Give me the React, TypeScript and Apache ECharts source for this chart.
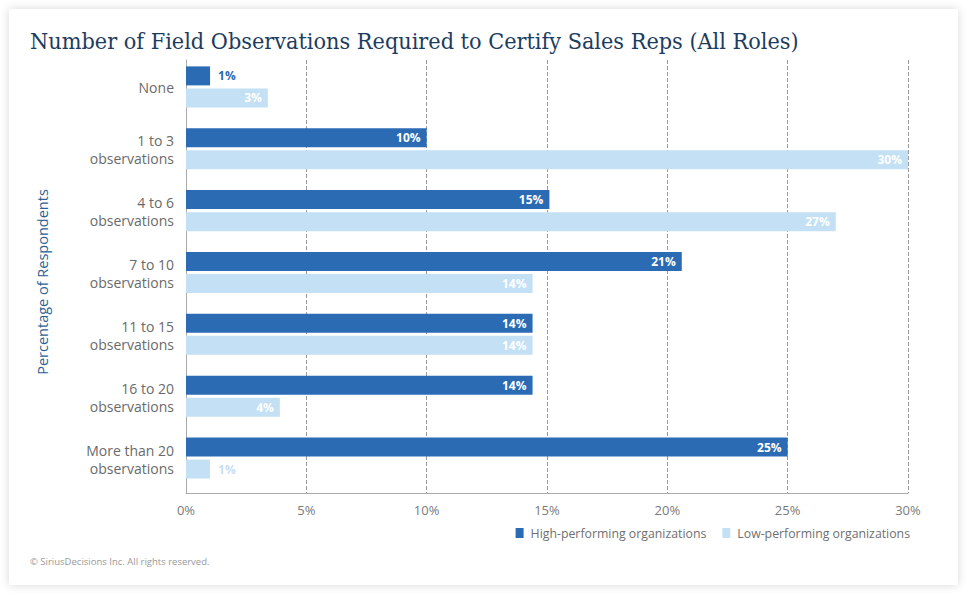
import React, { useEffect, useRef } from "react";
import * as echarts from "echarts";

const categories = [
  "None",
  "1 to 3\nobservations",
  "4 to 6\nobservations",
  "7 to 10\nobservations",
  "11 to 15\nobservations",
  "16 to 20\nobservations",
  "More than 20\nobservations",
];
const highPerforming = [1, 10, 15.1, 20.6, 14.4, 14.4, 25];
const lowPerforming = [3.4, 30, 27, 14.4, 14.4, 3.9, 1];
const xTicks = [0, 5, 10, 15, 20, 25, 30];
const seriesNames = ["High-performing organizations", "Low-performing organizations"];
const titleText = "Number of Field Observations Required to Certify Sales Reps (All Roles)";
const yAxisName = "Percentage of Respondents";
const footerText = "© SiriusDecisions Inc. All rights reserved.";

const DARK = "#2b6bb4";
const LIGHT = "#c4e0f5";
const FONT = "'Open Sans', 'Noto Sans', sans-serif";

function buildData(values: number[], outsideColor: string) {
  return values.map((v) =>
    v < 3
      ? { value: v, label: { position: "right", color: outsideColor, distance: 8 } }
      : { value: v }
  );
}

export default function App() {
  const ref = useRef<HTMLDivElement>(null);
  useEffect(() => {
    document.body.style.margin = "0";
    const chart = echarts.init(ref.current!, null, { renderer: "svg" });
    const labelBase = {
      show: true,
      position: "insideRight",
      distance: 6,
      color: "#ffffff",
      fontWeight: "bold",
      fontSize: 12,
      fontFamily: FONT,
      formatter: (p: any) => Math.round(p.value) + "%",
    };
    chart.setOption({
      animation: false,
      backgroundColor: "transparent",
      title: {
        text: titleText,
        left: 25,
        top: 24,
        textStyle: {
          fontFamily: "'DejaVu Serif Condensed', 'DejaVu Serif', serif",
          fontSize: 23.2,
          fontWeight: "normal",
          color: "#1d3c5e",
        },
      },
      legend: {
        right: 60,
        top: 522,
        icon: "rect",
        itemWidth: 8,
        itemHeight: 10,
        itemGap: 16,
        data: seriesNames,
        textStyle: { color: "#6f6f6f", fontSize: 12.3, fontFamily: FONT, padding: [0, 0, 0, 2] },
      },
      grid: { left: 186, right: 67, top: 60, bottom: 108 },
      xAxis: {
        type: "value",
        min: xTicks[0],
        max: xTicks[xTicks.length - 1],
        interval: 5,
        axisLine: { show: true, lineStyle: { color: "#aaaaaa" } },
        axisTick: { show: false },
        axisLabel: {
          formatter: "{value}%",
          color: "#7a7a7a",
          fontSize: 13,
          fontFamily: FONT,
          margin: 10,
        },
        splitLine: { show: true, lineStyle: { type: "dashed", color: "#9a9a9a" } },
      },
      yAxis: {
        type: "category",
        inverse: true,
        data: categories,
        axisLine: { show: true, lineStyle: { color: "#aaaaaa" } },
        axisTick: { show: false },
        axisLabel: {
          color: "#6a6a6a",
          fontSize: 14,
          lineHeight: 18,
          fontFamily: FONT,
          margin: 12,
          formatter: (v: string) => v + "\n{s| }",
          rich: { s: { height: 6, lineHeight: 6, fontSize: 1 } },
        },
      },
      series: [
        {
          name: seriesNames[0],
          type: "bar",
          barWidth: 19,
          barGap: "16%",
          itemStyle: { color: DARK },
          label: labelBase,
          data: buildData(highPerforming, DARK),
        },
        {
          name: seriesNames[1],
          type: "bar",
          barWidth: 19,
          barGap: "16%",
          itemStyle: { color: LIGHT },
          label: labelBase,
          data: buildData(lowPerforming, LIGHT),
        },
        {
          name: "spacer",
          type: "bar",
          barWidth: 5,
          barGap: "16%",
          silent: true,
          itemStyle: { color: "transparent" },
          data: categories.map(() => 0),
        },
      ],
      graphic: [
        {
          type: "text",
          x: 42,
          y: 282,
          rotation: Math.PI / 2,
          style: {
            text: yAxisName,
            fill: "#2e5f93",
            fontSize: 14.5,
            fontFamily: FONT,
            align: "center",
            verticalAlign: "middle",
          },
        },
        {
          type: "text",
          left: 30,
          top: 556,
          style: { text: footerText, fill: "#999999", fontSize: 9.5, fontFamily: FONT },
        },
      ],
    });
    return () => chart.dispose();
  }, []);
  return (
    <div style={{ position: "relative", width: 975, height: 601, background: "#ffffff", overflow: "hidden" }}>
      <div
        style={{
          position: "absolute",
          left: 9,
          top: 9,
          width: 949,
          height: 576,
          background: "#ffffff",
          boxShadow: "0 0 9px rgba(0,0,0,0.16)",
        }}
      />
      <div ref={ref} style={{ position: "absolute", left: 0, top: 0, width: 975, height: 601 }} />
    </div>
  );
}
